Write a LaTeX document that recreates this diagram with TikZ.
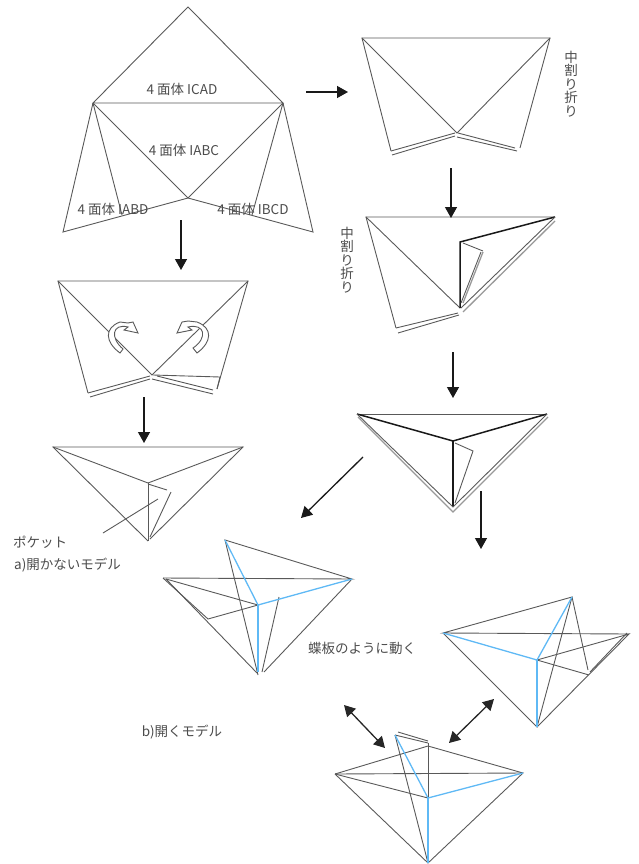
\documentclass[tikz,border=0pt]{standalone}
\usepackage{fontspec}
\setmainfont{Noto Sans CJK JP}
\usetikzlibrary{arrows.meta}
\definecolor{hinge}{RGB}{95,185,245}
\begin{document}
\begin{tikzpicture}[
    x=1pt, y=-1pt,
    every node/.style={font=\fontsize{13.5}{13.5}\selectfont, align=center, inner sep=0pt, text=black!70},
    fold/.style={draw=black!65, line width=0.9pt},
    foldbold/.style={draw=black!90, line width=1.5pt},
    foldpale/.style={draw=black!40, line width=1.3pt},
    foldblue/.style={draw=hinge, line width=1.3pt},
    arr/.style={-{Triangle[width=12pt,length=11pt]}, line width=1.3pt, black!90},
    dblarr/.style={{Triangle[width=12pt,length=11pt]}-{Triangle[width=12pt,length=11pt]}, line width=1.3pt, black!85},
]
    \useasboundingbox (0,0) rectangle (639,864);
    % open net
    \draw[fold] (93,103) -- (188,7) -- (283,103) -- cycle;
    \draw[fold] (93,103) -- (188,198) -- (283,103);
    \draw[fold] (93,103) -- (63,232) -- (188,198) -- (313,232) -- (283,103);
    \draw[fold] (93,103) -- (122,215);
    \draw[fold] (283,103) -- (252,215);
    \node (icad) at (182,89) {4 面体 ICAD};
    \node (iabc) at (184,150) {4 面体 IABC};
    \node (iabd) at (113,209) {4 面体 IABD};
    \node (ibcd) at (253,209) {4 面体 IBCD};
    % first fold
    \draw[fold] (391,151) -- (362,38) -- (550,38) -- (520,148);
    \draw[fold] (362,38) -- (457,133) -- (550,38);
    \draw[fold] (391,151) -- (455,133);
    \draw[fold] (392,155) -- (455,136);
    \draw[fold] (458,133) -- (515,148);
    \draw[fold] (457,137) -- (517,151);
    \node (naka1) at (571,84) {中\\割\\り\\折\\り};
    % second fold
    \draw[fold] (396,328) -- (366,217) -- (555,217);
    \draw[fold] (366,217) -- (460,308);
    \draw[fold] (396,328) -- (458,313);
    \draw[fold] (398,333) -- (459,315);
    \draw[foldbold] (555,217) -- (460,242) -- (460,308);
    \draw[fold] (463,243) -- (483,251);
    \draw[foldpale] (483,252) -- (463,303);
    \draw[fold] (481,252) -- (461,303);
    \draw[fold] (555,217) -- (461,308);
    \draw[foldpale] (555,221) -- (463,312);
    \node (naka2) at (347,260) {中\\割\\り\\折\\り};
    % fold with turning marks
    \draw[fold] (88,393) -- (58,281) -- (248,281) -- (217,389);
    \draw[fold] (58,281) -- (152,375) -- (248,281);
    \draw[fold] (88,393) -- (150,376);
    \draw[fold] (90,397) -- (150,379);
    \draw[fold] (157,376) -- (213,390);
    \draw[fold] (152,379) -- (213,394);
    \draw[fold] (153,375) -- (220,377) -- (217,389);
    \draw[fold, fill=white] (120,353) .. controls (105,342) and (104,328) .. (120,322)
        -- (128,323) -- (133,322) -- (138,333) -- (124,330) -- (128,327)
        .. controls (112,323) and (110,338) .. (123,349) -- cycle;
    \draw[fold, fill=white] (197,353) .. controls (212,342) and (213,328) .. (197,322)
        -- (188,321) -- (182,322) -- (177,333) -- (192,330) -- (188,327)
        .. controls (205,323) and (208,338) .. (193,348) -- cycle;
    % pocket
    \draw[fold] (148,541) -- (53,447) -- (243,447) -- (150,539);
    \draw[fold] (53,447) -- (148,483) -- (243,447);
    \draw[fold] (148,483) -- (148,541);
    \draw[fold] (148,484) -- (167,490);
    \draw[fold] (171,492) -- (150,537);
    \draw[fold] (103,533) -- (158,499);
    \node[anchor=west] (poket) at (13,542) {ポケット};
    \node[anchor=west] (closed) at (14,565) {a)開かないモデル};
    % squash
    \draw[fold] (357,414) -- (547,414);
    \draw[foldbold] (357,414) -- (453,441) -- (547,414);
    \draw[foldbold] (453,441) -- (453,507);
    \draw[fold] (357,414) -- (453,507) -- (547,414);
    \draw[foldpale] (358,417) -- (453,512) -- (548,417);
    \draw[fold] (455,443) -- (473,451) -- (455,503);
    % model a
    \draw[fold] (163,578) -- (352,579) -- (225,540) -- (258,675);
    \draw[fold] (352,579) -- (264,672);
    \draw[fold] (166,579) -- (257,673);
    \draw[fold] (163,578) -- (208,619) -- (258,605) -- (166,579);
    \draw[fold] (279,597) -- (262,672);
    \draw[foldblue] (225,540) -- (258,605) -- (352,579);
    \draw[foldblue] (258,605) -- (258,672);
    \node (hinge) at (362,648) {蝶板のように動く};
    % model b
    \draw[fold] (629,634) -- (443,633) -- (572,597) -- (537,727) -- (443,633);
    \draw[fold] (537,727) -- (629,634) -- (537,660) -- (589,675);
    \draw[fold] (572,597) -- (588,670);
    \draw[fold] (627,633) -- (590,672);
    \draw[foldblue] (443,633) -- (537,660) -- (572,597);
    \draw[foldblue] (537,660) -- (537,727);
    \node (opened) at (182,732) {b)開くモデル};
    % model c
    \draw[fold] (335,774) -- (523,773) -- (428,863) -- (335,774);
    \draw[fold] (335,774) -- (428,798);
    \draw[fold] (335,774) -- (428,746) -- (523,773);
    \draw[fold] (428,743) -- (428,798);
    \draw[fold] (395,735) -- (428,863);
    \draw[fold] (395,735) -- (428,743);
    \draw[fold] (398,732) -- (428,741);
    \draw[foldblue] (395,735) -- (428,798) -- (523,773);
    \draw[foldblue] (428,798) -- (428,863);
    % arrows
    \coordinate (a1s) at (306,92);
    \coordinate (a1e) at (348,92);
    \coordinate (a2s) at (181,220);
    \coordinate (a2e) at (181,270);
    \coordinate (a3s) at (451,168);
    \coordinate (a3e) at (451,218);
    \coordinate (a4s) at (144,397);
    \coordinate (a4e) at (144,443);
    \coordinate (a5s) at (453,352);
    \coordinate (a5e) at (453,398);
    \coordinate (a6s) at (363,457);
    \coordinate (a6e) at (301,518);
    \coordinate (a7s) at (481,491);
    \coordinate (a7e) at (481,549);
    \coordinate (d1s) at (344,705);
    \coordinate (d1e) at (385,748);
    \coordinate (d2s) at (494,699);
    \coordinate (d2e) at (449,743);
    \draw[arr] (a1s) -- (a1e);
    \draw[arr] (a2s) -- (a2e);
    \draw[arr] (a3s) -- (a3e);
    \draw[arr] (a4s) -- (a4e);
    \draw[arr] (a5s) -- (a5e);
    \draw[arr] (a6s) -- (a6e);
    \draw[arr] (a7s) -- (a7e);
    \draw[dblarr] (d1s) -- (d1e);
    \draw[dblarr] (d2s) -- (d2e);
\end{tikzpicture}
\end{document}
